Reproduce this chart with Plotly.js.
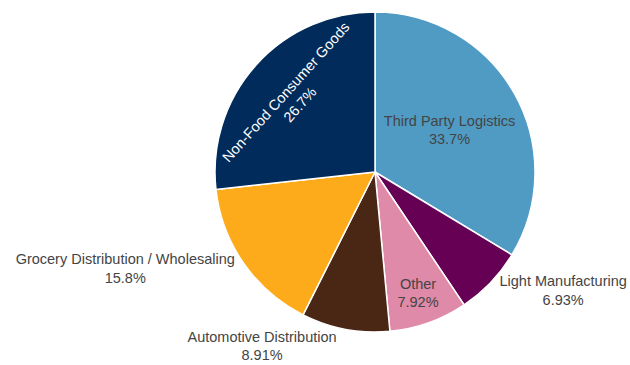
<!DOCTYPE html>
<html>
<head>
<meta charset="utf-8">
<script src="https://cdn.plot.ly/plotly-3.0.1.min.js"></script>
<style>html,body{margin:0;padding:0;background:#fff}#chart{width:630px;height:365px}</style>
</head>
<body>
<div id="chart"></div>
<script>
const labels = ["Third Party Logistics", "Light Manufacturing", "Other", "Automotive Distribution", "Grocery Distribution / Wholesaling", "Non-Food Consumer Goods"];
const counts = [34, 7, 8, 9, 16, 27];
const colors = ["#4f9bc4", "#660055", "#df8aa8", "#4a2715", "#fdab1a", "#002b5b"];

Plotly.newPlot("chart", [{
  type: "pie",
  labels: labels,
  values: counts,
  sort: false,
  direction: "clockwise",
  rotation: 0,
  textinfo: "label+percent",
  textposition: "auto",
  insidetextorientation: "auto",
  marker: {colors: colors, line: {color: "#ffffff", width: 1.5}},
  textfont: {family: "Arial, 'Liberation Sans', sans-serif", size: 14.5},
  showlegend: false,
  hoverinfo: "none"
}], {
  width: 630,
  height: 365,
  margin: {l: 120, r: 0, t: 12, b: 33},
  paper_bgcolor: "#ffffff",
  font: {family: "Arial, 'Liberation Sans', sans-serif", size: 14.5, color: "#444"},
  showlegend: false
}, {staticPlot: true});
</script>
</body>
</html>
